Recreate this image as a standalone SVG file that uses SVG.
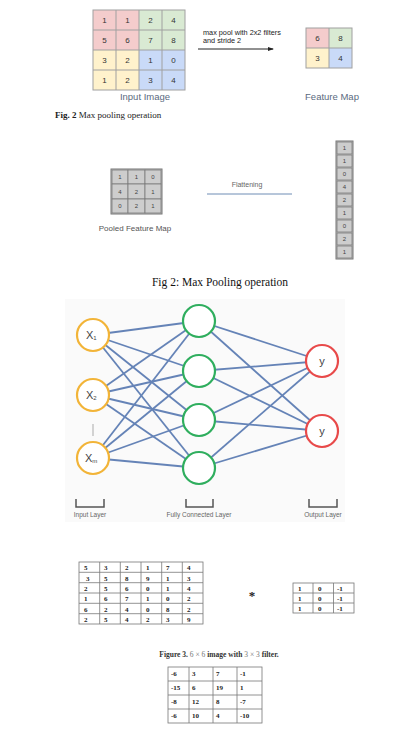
<svg xmlns="http://www.w3.org/2000/svg" width="419" height="730" viewBox="0 0 419 730">
<style>
.sans{font-family:"Liberation Sans","Open Sans",Arial,sans-serif}
.serif{font-family:"Liberation Serif","Times New Roman",serif}
.c{text-anchor:middle}
.num{font-size:8px;fill:#333}
.g{fill:#cdcdcd;stroke:#7a7a7a;stroke-width:0.8}
.gn{font-size:6px;fill:#444}
.lbl{font-size:9.5px;fill:#5a6a80}
.edge{stroke:#5577b0;stroke-width:1.8;fill:none;opacity:0.9}
.inp{fill:#fff;stroke:#f2b438;stroke-width:2.2}
.hid{fill:#fff;stroke:#2fae5e;stroke-width:2.2}
.out{fill:#fff;stroke:#e84a4a;stroke-width:2.2}
.br{fill:none;stroke:#555;stroke-width:1.5}
.ll{font-size:6.5px;fill:#666}
.tb{fill:#fff;stroke:#777;stroke-width:0.8}
.tn{font-size:7px;font-weight:bold;fill:#222}
</style>
<defs>
<marker id="ah" markerWidth="6" markerHeight="6" refX="5" refY="3" orient="auto" markerUnits="userSpaceOnUse">
<path d="M0,1 L6,3 L0,5 z" fill="#222"/>
</marker>
</defs>
<rect width="419" height="730" fill="#fff"/>

<g id="input-image">
<rect x="93" y="10" width="46" height="40" fill="#f4cccc"/>
<rect x="139" y="10" width="46" height="40" fill="#d9ead3"/>
<rect x="93" y="50" width="46" height="40" fill="#fff2cc"/>
<rect x="139" y="50" width="46" height="40" fill="#c9daf8"/>
<g stroke="#a0a0a0" stroke-width="1" fill="none">
<rect x="93" y="10" width="92" height="80"/>
<line x1="116" y1="10" x2="116" y2="90"/><line x1="139" y1="10" x2="139" y2="90"/><line x1="162" y1="10" x2="162" y2="90"/>
<line x1="93" y1="30" x2="185" y2="30"/><line x1="93" y1="50" x2="185" y2="50"/><line x1="93" y1="70" x2="185" y2="70"/>
</g>
<g class="sans c num">
<text x="104.5" y="23">1</text><text x="127.5" y="23">1</text><text x="150.5" y="23">2</text><text x="173.5" y="23">4</text>
<text x="104.5" y="43">5</text><text x="127.5" y="43">6</text><text x="150.5" y="43">7</text><text x="173.5" y="43">8</text>
<text x="104.5" y="63">3</text><text x="127.5" y="63">2</text><text x="150.5" y="63">1</text><text x="173.5" y="63">0</text>
<text x="104.5" y="83">1</text><text x="127.5" y="83">2</text><text x="150.5" y="83">3</text><text x="173.5" y="83">4</text>
</g>
<text class="sans c lbl" x="145" y="100">Input Image</text>
</g>

<g id="pool-arrow">
<line x1="198" y1="49" x2="273" y2="49" stroke="#222" stroke-width="1" marker-end="url(#ah)"/>
<text class="sans" x="203" y="35" font-size="7.3" fill="#222">max pool with 2x2 filters</text>
<text class="sans" x="203" y="42.5" font-size="7.3" fill="#222">and stride 2</text>
</g>

<g id="feature-map">
<rect x="306" y="28" width="23" height="20" fill="#f4cccc"/>
<rect x="329" y="28" width="23" height="20" fill="#d9ead3"/>
<rect x="306" y="48" width="23" height="20" fill="#fff2cc"/>
<rect x="329" y="48" width="23" height="20" fill="#c9daf8"/>
<g stroke="#a0a0a0" stroke-width="1" fill="none">
<rect x="306" y="28" width="46" height="40"/>
<line x1="329" y1="28" x2="329" y2="68"/><line x1="306" y1="48" x2="352" y2="48"/>
</g>
<g class="sans c num">
<text x="317.5" y="41">6</text><text x="340.5" y="41">8</text>
<text x="317.5" y="61">3</text><text x="340.5" y="61">4</text>
</g>
<text class="sans c lbl" x="332" y="100">Feature Map</text>
</g>

<text class="serif" x="55" y="118" font-size="9" fill="#222"><tspan font-weight="bold">Fig. 2</tspan>  Max pooling operation</text>

<g id="pooled-map">
<rect x="111" y="169" width="51" height="45" fill="#cdcdcd" stroke="#777" stroke-width="1"/>
<g class="g">
<rect x="112" y="170" width="16" height="14"/><rect x="128" y="170" width="17" height="14"/><rect x="145" y="170" width="16" height="14"/>
<rect x="112" y="184" width="16" height="15"/><rect x="128" y="184" width="17" height="15"/><rect x="145" y="184" width="16" height="15"/>
<rect x="112" y="199" width="16" height="14"/><rect x="128" y="199" width="17" height="14"/><rect x="145" y="199" width="16" height="14"/>
</g>
<g class="sans c gn">
<text x="120" y="179">1</text><text x="136.5" y="179">1</text><text x="153" y="179">0</text>
<text x="120" y="194">4</text><text x="136.5" y="194">2</text><text x="153" y="194">1</text>
<text x="120" y="208">0</text><text x="136.5" y="208">2</text><text x="153" y="208">1</text>
</g>
<text class="sans c" x="135" y="231" font-size="8" fill="#555">Pooled Feature Map</text>
</g>

<g id="flatten-arrow">
<line x1="207" y1="194" x2="292" y2="194" stroke="#6f8db5" stroke-width="1"/>
<text class="sans c" x="247" y="187" font-size="7" fill="#666">Flattening</text>
</g>

<g id="flattened">
<rect x="336" y="141" width="17" height="118" fill="#cdcdcd" stroke="#777" stroke-width="1"/>
<g class="g">
<rect x="337" y="142" width="15" height="12"/><rect x="337" y="155" width="15" height="12"/><rect x="337" y="168" width="15" height="12"/>
<rect x="337" y="181" width="15" height="12"/><rect x="337" y="194" width="15" height="12"/><rect x="337" y="207" width="15" height="12"/>
<rect x="337" y="220" width="15" height="12"/><rect x="337" y="233" width="15" height="12"/><rect x="337" y="246" width="15" height="12"/>
</g>
<g class="sans c gn" font-size="5.5">
<text x="344.5" y="150">1</text><text x="344.5" y="163">1</text><text x="344.5" y="176">0</text>
<text x="344.5" y="189">4</text><text x="344.5" y="202">2</text><text x="344.5" y="215">1</text>
<text x="344.5" y="228">0</text><text x="344.5" y="241">2</text><text x="344.5" y="254">1</text>
</g>
</g>

<text class="serif c" x="220" y="286" font-size="11.5" fill="#111">Fig 2: Max Pooling operation</text>

<rect x="65" y="299" width="280" height="223" fill="#fafafa"/>
<g id="connectors">
<g class="edge">
<line x1="93" y1="335" x2="199" y2="321"/><line x1="93" y1="335" x2="199" y2="371"/><line x1="93" y1="335" x2="199" y2="420"/><line x1="93" y1="335" x2="199" y2="468"/>
<line x1="93" y1="395" x2="199" y2="321"/><line x1="93" y1="395" x2="199" y2="371"/><line x1="93" y1="395" x2="199" y2="420"/><line x1="93" y1="395" x2="199" y2="468"/>
<line x1="93" y1="458" x2="199" y2="321"/><line x1="93" y1="458" x2="199" y2="371"/><line x1="93" y1="458" x2="199" y2="420"/><line x1="93" y1="458" x2="199" y2="468"/>
<line x1="199" y1="321" x2="322" y2="361"/><line x1="199" y1="321" x2="322" y2="431"/>
<line x1="199" y1="371" x2="322" y2="361"/><line x1="199" y1="371" x2="322" y2="431"/>
<line x1="199" y1="420" x2="322" y2="361"/><line x1="199" y1="420" x2="322" y2="431"/>
<line x1="199" y1="468" x2="322" y2="361"/><line x1="199" y1="468" x2="322" y2="431"/>
</g>
<line x1="93" y1="424" x2="93" y2="436" stroke="#aaa" stroke-width="1"/>
</g>
<g id="x1"><circle class="inp" cx="93" cy="335" r="16"/><text class="sans" x="86" y="339" font-size="11" fill="#444">X<tspan font-size="6" dy="1">1</tspan></text></g>
<g id="x2"><circle class="inp" cx="93" cy="395" r="16"/><text class="sans" x="86" y="399" font-size="11" fill="#444">X<tspan font-size="6" dy="1">2</tspan></text></g>
<g id="xm"><circle class="inp" cx="93" cy="458" r="16"/><text class="sans" x="85" y="462" font-size="11" fill="#444">X<tspan font-size="6" dy="1">m</tspan></text></g>
<g id="h1"><circle class="hid" cx="199" cy="321" r="16"/></g>
<g id="h2"><circle class="hid" cx="199" cy="371" r="16"/></g>
<g id="h3"><circle class="hid" cx="199" cy="420" r="16"/></g>
<g id="h4"><circle class="hid" cx="199" cy="468" r="16"/></g>
<g id="y1"><circle class="out" cx="322" cy="361" r="16"/><text class="sans c" x="322" y="365" font-size="11" fill="#444">y</text></g>
<g id="y2"><circle class="out" cx="322" cy="431" r="16"/><text class="sans c" x="322" y="435" font-size="11" fill="#444">y</text></g>
<g id="layer-labels">
<path class="br" d="M76,499 V507 H104 V499"/>
<path class="br" d="M186,499 V507 H213 V499"/>
<path class="br" d="M309,499 V507 H337 V499"/>
<text class="sans c ll" x="90" y="517">Input Layer</text>
<text class="sans c ll" x="199" y="517">Fully Connected Layer</text>
<text class="sans c ll" x="323" y="517">Output Layer</text>
</g>

<g id="image-6x6">
<rect x="79" y="562" width="124" height="62" class="tb"/>
<g stroke="#777" stroke-width="0.8">
<line x1="99.7" y1="562" x2="99.7" y2="624"/><line x1="120.3" y1="562" x2="120.3" y2="624"/><line x1="141" y1="562" x2="141" y2="624"/><line x1="161.7" y1="562" x2="161.7" y2="624"/><line x1="182.3" y1="562" x2="182.3" y2="624"/>
<line x1="79" y1="572.3" x2="203" y2="572.3"/><line x1="79" y1="582.7" x2="203" y2="582.7"/><line x1="79" y1="593" x2="203" y2="593"/><line x1="79" y1="603.3" x2="203" y2="603.3"/><line x1="79" y1="613.7" x2="203" y2="613.7"/>
</g>
<g class="serif tn">
<text x="84" y="570">5</text><text x="104" y="570">3</text><text x="125" y="570">2</text><text x="146" y="570">1</text><text x="166" y="570">7</text><text x="187" y="570">4</text>
<text x="86" y="580.5">3</text><text x="104" y="580.5">5</text><text x="125" y="580.5">8</text><text x="146" y="580.5">9</text><text x="166" y="580.5">1</text><text x="187" y="580.5">3</text>
<text x="84" y="591">2</text><text x="104" y="591">5</text><text x="125" y="591">6</text><text x="146" y="591">0</text><text x="166" y="591">1</text><text x="187" y="591">4</text>
<text x="84" y="601">1</text><text x="104" y="601">6</text><text x="125" y="601">7</text><text x="146" y="601">1</text><text x="166" y="601">0</text><text x="187" y="601">2</text>
<text x="84" y="611.5">6</text><text x="104" y="611.5">2</text><text x="125" y="611.5">4</text><text x="146" y="611.5">0</text><text x="166" y="611.5">8</text><text x="187" y="611.5">2</text>
<text x="84" y="622">2</text><text x="104" y="622">5</text><text x="125" y="622">4</text><text x="146" y="622">2</text><text x="166" y="622">3</text><text x="187" y="622">9</text>
</g>
</g>

<text class="serif c" x="252" y="600" font-size="13" font-weight="bold" fill="#222">*</text>

<g id="filter-3x3">
<rect x="293" y="583" width="61" height="30" class="tb"/>
<g stroke="#777" stroke-width="0.8">
<line x1="313" y1="583" x2="313" y2="613"/><line x1="333.5" y1="583" x2="333.5" y2="613"/>
<line x1="293" y1="593" x2="354" y2="593"/><line x1="293" y1="603" x2="354" y2="603"/>
</g>
<g class="serif tn">
<text x="298" y="591">1</text><text x="318" y="591">0</text><text x="337" y="591">-1</text>
<text x="298" y="601">1</text><text x="318" y="601">0</text><text x="337" y="601">-1</text>
<text x="298" y="611">1</text><text x="318" y="611">0</text><text x="337" y="611">-1</text>
</g>
</g>

<text class="serif c" x="219" y="657" font-size="7.5" font-weight="bold" fill="#333">Figure 3. <tspan font-weight="normal" fill="#777">6 × 6</tspan> image with <tspan font-weight="normal" fill="#777">3 × 3</tspan> filter.</text>

<g id="result-4x4">
<rect x="168" y="667" width="94" height="56" class="tb"/>
<g stroke="#777" stroke-width="0.8">
<line x1="189" y1="667" x2="189" y2="723"/><line x1="213" y1="667" x2="213" y2="723"/><line x1="237" y1="667" x2="237" y2="723"/>
<line x1="168" y1="681" x2="262" y2="681"/><line x1="168" y1="695" x2="262" y2="695"/><line x1="168" y1="709" x2="262" y2="709"/>
</g>
<g class="serif tn" font-size="6">
<text x="171" y="676">-6</text><text x="192" y="676">3</text><text x="216" y="676">7</text><text x="240" y="676">-1</text>
<text x="171" y="690">-15</text><text x="192" y="690">6</text><text x="216" y="690">19</text><text x="240" y="690">1</text>
<text x="171" y="704">-8</text><text x="192" y="704">12</text><text x="216" y="704">8</text><text x="240" y="704">-7</text>
<text x="171" y="718">-6</text><text x="192" y="718">10</text><text x="216" y="718">4</text><text x="240" y="718">-10</text>
</g>
</g>
</svg>
